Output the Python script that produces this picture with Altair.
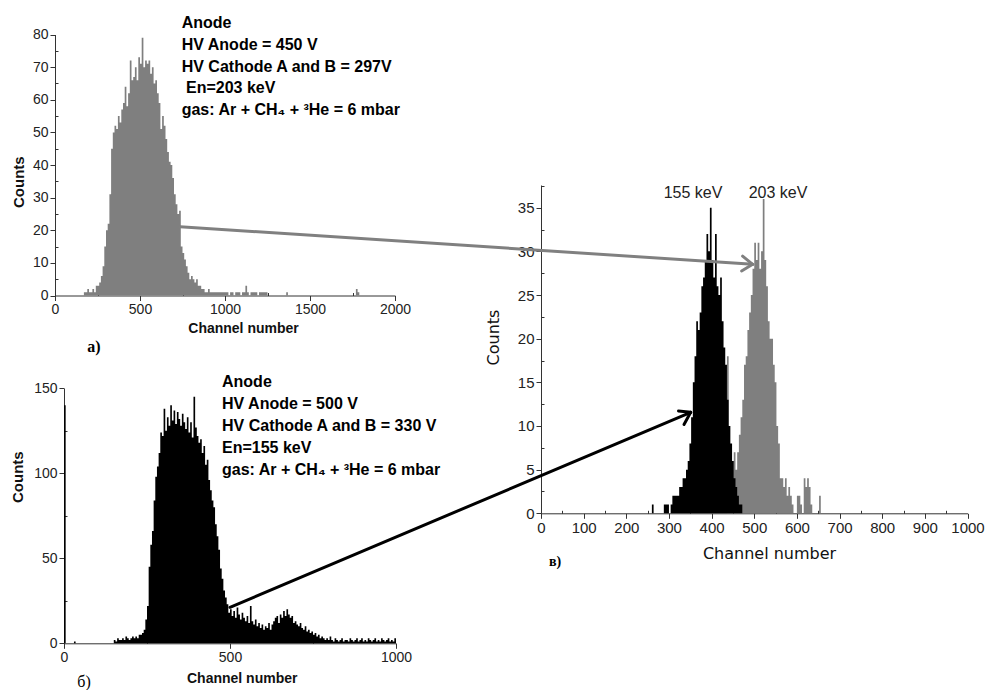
import altair as alt
import pandas as pd

W, H = 989, 690

# ---------------- data ----------------
# panel a) : anode spectrum, En = 203 keV (bins of 10 channels)
a_width = 10
a_channels = list(range(170, 1250, 10)) + [1360, 1770, 1780]
a_counts = [1, 1, 2, 1, 1, 2, 1, 3,
            3, 4, 6, 9, 15, 20, 22, 31, 45, 50,
            52, 51, 55, 53, 57, 59, 64, 58, 62, 72,
            66, 67, 70, 66, 73, 71, 79, 70, 72, 71,
            72, 68, 70, 65, 66, 62, 59, 51, 55, 52,
            48, 44, 41, 40, 36, 31, 28, 25, 26, 15,
            13, 11, 9, 7, 5, 6, 5, 4, 5, 3,
            3, 2, 2, 1, 1, 2, 1, 1, 1, 1,
            1, 1, 1, 1, 1, 1, 1, 0, 1, 1,
            0, 1, 1, 1, 0, 1, 1, 3, 1, 0,
            1, 1, 1, 1, 0, 1, 1, 1, 1, 1] + [1, 2, 1]

# panel б) : anode spectrum, En = 155 keV (bins of 5 channels)
b_width = 5
b_channels = [0, 30] + list(range(150, 1000, 5))
b_counts = [140, 1] + [
    2, 1, 3, 2, 2, 3, 2, 4, 3, 2,
    3, 4, 3, 4, 3, 5, 5, 6, 8, 14,
    22, 45, 58, 66, 84, 98, 104, 112, 124, 122,
    138, 125, 133, 128, 140, 131, 137, 129, 136, 132,
    128, 135, 130, 126, 133, 124, 130, 121, 145, 127,
    122, 118, 120, 112, 116, 105, 108, 96, 90, 84,
    80, 70, 63, 55, 44, 38, 31, 27, 23, 18,
    20, 16, 19, 15, 21, 17, 14, 18, 15, 13,
    16, 12, 22, 13, 11, 14, 10, 12, 9, 11,
    8, 10, 9, 12, 8, 11, 13, 15, 16, 12,
    17, 15, 19, 16, 20, 17, 15, 16, 12, 13,
    11, 10, 12, 9, 8, 10, 7, 8, 6, 7,
    5, 6, 4, 5, 3, 4, 3, 2, 3, 2,
    4, 2, 1, 3, 2, 1, 2, 3, 1, 2,
    2, 1, 3, 2, 1, 2, 3, 1, 2, 3,
    1, 2, 1, 3, 2, 1, 2, 3, 1, 2,
    1, 3, 2, 1, 2, 3, 1, 2, 1, 3]

# panel в) : two spectra (bins of 4 channels)
c_width = 4
c155_channels = list(range(260, 472, 4))
c155_counts = [1, 0, 0, 0, 0, 0, 0, 1, 1, 1,
               0, 1, 2, 2, 2, 2, 3, 3, 4, 4,
               5, 6, 8, 11, 15, 18, 22, 21, 23, 26,
               27, 29, 32, 30, 35, 29, 27, 32, 26, 25,
               27, 22, 19, 17, 13, 10, 8, 6, 4, 3,
               2, 1, 1]
c203_channels = list(range(432, 656, 4))
c203_counts = [0, 18, 3, 2, 4, 7, 5, 7, 9, 11,
               13, 17, 18, 21, 23, 25, 28, 31, 29, 31,
               28, 30, 36, 29, 26, 22, 20, 20, 17, 15,
               10, 8, 4, 4, 3, 4, 2, 3, 2, 1,
               0, 0, 2, 2, 1, 0, 4, 3, 4, 3,
               1, 0, 0, 0, 0, 2]

a_text = ["Anode", "HV Anode = 450 V", "HV Cathode A and B = 297V",
          "En=203 keV", "gas: Ar + CH\u2084 + \u00b3He = 6 mbar"]
b_text = ["Anode", "HV Anode = 500 V", "HV Cathode A and B = 330 V",
          "En=155 keV", "gas: Ar + CH\u2084 + \u00b3He = 6 mbar"]


def step_df(channels, counts, width):
    """Histogram as a step outline: each bin start, plus a closing zero where bins stop."""
    xs, ns = [], []
    for i, (c, n) in enumerate(zip(channels, counts)):
        xs.append(c)
        ns.append(n)
        nxt = channels[i + 1] if i + 1 < len(channels) else None
        if nxt != c + width:
            xs.append(c + width)
            ns.append(0)
    df = pd.DataFrame({"ch": xs, "n": ns})
    df["base"] = 0
    return df


da = step_df(a_channels, a_counts, a_width)
db = step_df(b_channels, b_counts, b_width)
dc_155 = step_df(c155_channels, c155_counts, c_width)
dc_203 = step_df(c203_channels, c203_counts, c_width)

# ---------------- layout (pixels) ----------------
SANS = "Liberation Sans"
NARROW = "Liberation Sans Narrow, Liberation Sans, sans-serif"
DEJA = "DejaVu Sans"
SERIF = "Liberation Serif"
AX = "#333333"


def off(orient, pos):
    return {"bottom": pos - H, "top": -pos, "left": -pos, "right": pos - W}[orient]


def major(orient, pos, values, title, tx, ty, lfont, lsize, tfont, tsize, tweight):
    kw = dict(orient=orient, offset=off(orient, pos), values=values, format="d",
              tickSize=5, tickColor=AX, domainColor=AX, labelColor="#222222",
              labelFont=lfont, labelFontSize=lsize, labelPadding=2,
              labelFlush=False, labelOverlap=False, grid=False,
              title=title, titleFont=tfont, titleFontSize=tsize,
              titleFontWeight=tweight, titleColor="#111111",
              titleX=tx, titleY=ty, titleAlign="center", titleBaseline="middle")
    if orient == "left":
        kw["titleAngle"] = 270
    return alt.Axis(**kw)


def minor(orient, pos, values):
    return alt.Axis(orient=orient, offset=off(orient, pos), values=values,
                    tickSize=3, tickColor=AX, domain=False, labels=False,
                    grid=False, title=None)


def hist(df, xdom, xr, ydom, yr, xaxis, yaxis, color, opacity=1.0):
    return alt.Chart(df).mark_area(interpolate="step-after", color=color,
                                   opacity=opacity).encode(
        x=alt.X("ch:Q", scale=alt.Scale(domain=xdom, range=xr, nice=False, zero=False), axis=xaxis),
        y=alt.Y("n:Q", scale=alt.Scale(domain=ydom, range=yr, nice=False, zero=False),
                axis=yaxis, stack=None),
        y2="base:Q",
    )


# panel a
ax_a_x, ax_a_y = 295.5, 55
a_xr, a_yr = [55, 395], [295.5, 34.5]
pa = hist(da, [0, 2000], a_xr, [0, 80], a_yr,
          major("bottom", ax_a_x, [0, 500, 1000, 1500, 2000], "Channel number", 243, 32.5,
                SANS, 14, SANS, 14, "bold"),
          major("left", ax_a_y, list(range(0, 81, 10)), "Counts", -37, 181.7,
                SANS, 14, SANS, 15, "bold"),
          "#7f7f7f")
pa_minor = hist(da, [0, 2000], a_xr, [0, 80], a_yr,
                minor("top", ax_a_x, [250, 750, 1250, 1750]),
                minor("right", ax_a_y, list(range(5, 80, 10))), "#7f7f7f", opacity=0)

# panel b
ax_b_x, ax_b_y = 643.3, 64
b_xr, b_yr = [64, 396], [643.3, 388.3]
pb = hist(db, [0, 1000], b_xr, [0, 150], b_yr,
          major("bottom", ax_b_x, [0, 500, 1000], "Channel number", 241.7, 35,
                SANS, 14, SANS, 14, "bold"),
          major("left", ax_b_y, [0, 50, 100, 150], "Counts", -47, 476.7,
                SANS, 14, SANS, 15, "bold"),
          "#000000")
pb_minor = hist(db, [0, 1000], b_xr, [0, 150], b_yr,
                minor("top", ax_b_x, [250, 750]),
                minor("right", ax_b_y, [25, 75, 125]), "#000000", opacity=0)

# panel c (two spectra sharing one pair of scales)
ax_c_x, ax_c_y = 513.3, 541
c_xr, c_yr = [541, 967.5], [513.3, 185]
c_xaxis = major("bottom", ax_c_x, list(range(0, 1001, 100)), "Channel number", 769, 39.7,
                NARROW, 15, DEJA, 16, "normal")
c_yaxis = major("left", ax_c_y, list(range(0, 36, 5)), "Counts", -48, 337,
                NARROW, 15, DEJA, 16, "normal")
pc = alt.layer(
    hist(dc_203, [0, 1000], c_xr, [0, 37.6], c_yr, c_xaxis, c_yaxis, "#7f7f7f"),
    hist(dc_155, [0, 1000], c_xr, [0, 37.6], c_yr, c_xaxis, c_yaxis, "#000000"),
)
pc_minor = hist(dc_203, [0, 1000], c_xr, [0, 37.6], c_yr,
                minor("top", ax_c_x, list(range(50, 1000, 100))),
                minor("right", ax_c_y, [2.5, 7.5, 12.5, 17.5, 22.5, 27.5, 32.5, 37.5]),
                "#7f7f7f", opacity=0)


def label(text, x, y, size, font=SANS, weight="normal", color="#000000", align="left"):
    return alt.Chart().mark_text(text=text, font=font, fontSize=size, fontWeight=weight,
                                 color=color, align=align, baseline="middle").encode(
        x=alt.value(x), y=alt.value(y))


def seg(x1, y1, x2, y2, color):
    return alt.Chart().mark_rule(color=color, strokeWidth=3, strokeCap="round").encode(
        x=alt.value(x1), y=alt.value(y1), x2=alt.value(x2), y2=alt.value(y2))


texts = []
for t, xx, yy in zip(a_text, [181.7, 181.7, 181.7, 186, 181.7], [22.7, 45, 66.7, 87.8, 110]):
    texts.append(label(t, xx, yy, 16, weight="bold"))
for t, yy in zip(b_text, [382, 403.5, 426, 447.5, 470]):
    texts.append(label(t, 222, yy, 16, weight="bold"))
texts.append(label("155 keV", 693, 193, 16, color="#222222", align="center"))
texts.append(label("203 keV", 778, 193, 16, color="#222222", align="center"))
texts.append(label("a)", 94, 347, 16, font=SERIF, weight="bold", align="center"))
texts.append(label("б)", 84, 682, 16, font=SERIF, align="center"))
texts.append(label("в)", 555, 562, 14, font=SERIF, weight="bold", align="center"))

arrows = [
    seg(180, 226.7, 752.7, 264.3, "#808080"),
    seg(752.7, 264.3, 742.6, 256.1, "#808080"),
    seg(752.7, 264.3, 741.6, 271.0, "#808080"),
    seg(230, 607.3, 690.7, 412.3, "#000000"),
    seg(690.7, 412.3, 678.5, 411.0, "#000000"),
    seg(690.7, 412.3, 684.0, 424.5, "#000000"),
]

chart = alt.layer(pa, pa_minor, pb, pb_minor, pc, pc_minor, *arrows, *texts).resolve_scale(
    x="independent", y="independent"
).resolve_axis(x="independent", y="independent").properties(
    width=W, height=H, padding=0,
    autosize=alt.AutoSizeParams(type="none"),
    background="white",
).configure_view(stroke=None)

chart.save("out.html", embed_options={"renderer": "svg", "actions": False})
